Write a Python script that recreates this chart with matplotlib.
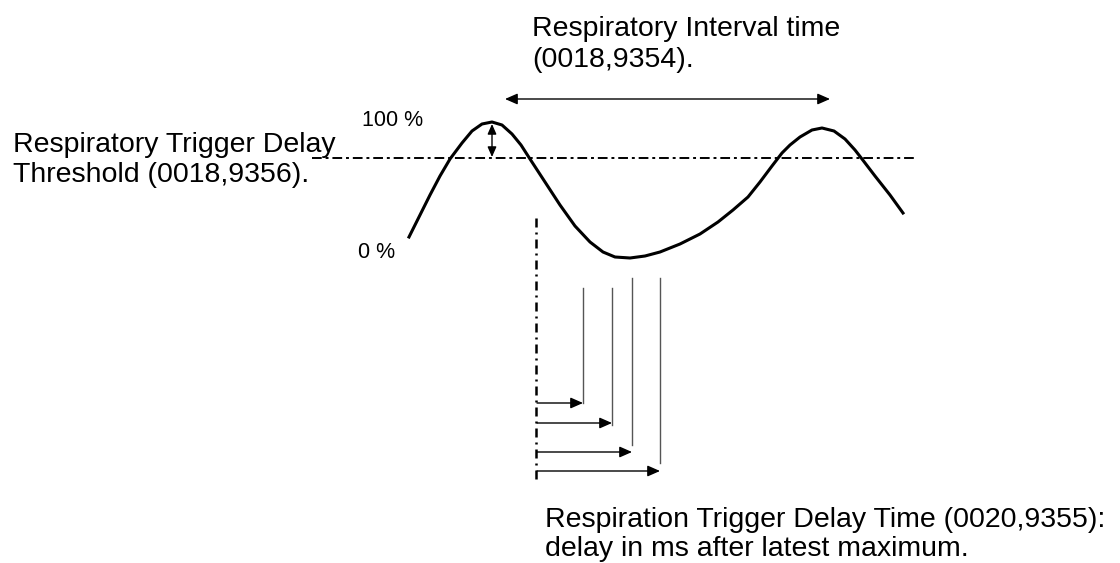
import matplotlib.pyplot as plt

plt.rcParams['font.family'] = ['Liberation Sans', 'DejaVu Sans']

# breathing curve (pixel space, y down)
curve_x = [409, 420, 430, 440, 450, 462, 472, 482, 492, 502, 512, 521, 530, 545,
           560, 575, 590, 603, 615, 630, 645, 660, 680, 700, 718, 733, 748, 760,
           772, 782, 790, 800, 812, 822, 834, 845, 855, 862, 875, 890, 903]
curve_y = [237, 215, 195, 176, 159, 143, 131, 124, 122, 125, 134, 145, 159, 182,
           205, 226, 242, 252, 257, 258, 256, 252, 244, 234, 222, 210, 197, 182,
           166, 153, 145, 137, 130, 128, 131, 139, 150, 159, 176, 195, 213]

threshold_y = 158
delay_x = 536
delay_tips = [583, 612, 632, 660]
delay_top = [288, 288, 278, 278]
delay_bottom = [403, 425, 445, 463]
delay_arrow_y = [403, 423, 452, 471]

interval_lines = ['Respiratory Interval time', '(0018,9354).']
threshold_lines = ['Respiratory Trigger Delay', 'Threshold (0018,9356).']
delay_lines = ['Respiration Trigger Delay Time (0020,9355):',
               'delay in ms after latest maximum.']

fig = plt.figure(figsize=(11.2, 5.63), dpi=100)
ax = fig.add_axes([0, 0, 1, 1])
ax.set_xlim(0, 1120)
ax.set_ylim(563, 0)
ax.axis('off')

ax.plot(curve_x, curve_y, color='black', lw=2.2, solid_joinstyle='round')

# threshold line
ax.plot([312, 914], [threshold_y, threshold_y], color='black', lw=1.4,
        linestyle=(0, (5, 2, 1.5, 2)))

# latest maximum marker
ax.plot([delay_x, delay_x], [218, 480], color='black', lw=1.8,
        linestyle=(0, (3.6, 2, 0.8, 2)))

head = dict(arrowstyle='-|>,head_length=0.5,head_width=0.22', color='black',
            lw=1.0, mutation_scale=15, shrinkA=0, shrinkB=0)
for xt, yt, yb, ya in zip(delay_tips, delay_top, delay_bottom, delay_arrow_y):
    ax.plot([xt, xt], [yt, yb], color='#555555', lw=1.0)
    ax.annotate('', xy=(xt, ya), xytext=(delay_x + 1, ya), arrowprops=head)

both = dict(arrowstyle='<|-|>,head_length=0.5,head_width=0.22', color='black',
            lw=1.0, mutation_scale=15, shrinkA=0, shrinkB=0)
ax.annotate('', xy=(830, 99), xytext=(505, 99), arrowprops=both)
ax.annotate('', xy=(492, 157), xytext=(492, 124),
            arrowprops=dict(both, mutation_scale=12))

big = dict(fontsize=20.5, ha='left', va='baseline')
for s, yb in zip(interval_lines, [36, 67]):
    ax.text(532, yb, s, **big)
for s, yb in zip(threshold_lines, [152, 182]):
    ax.text(13, yb, s, **big)
for s, yb in zip(delay_lines, [527, 556]):
    ax.text(545, yb, s, **big)

ax.text(362, 126, '100 %', fontsize=15.5, ha='left', va='baseline')
ax.text(358, 258, '0 %', fontsize=15.5, ha='left', va='baseline')

fig.savefig('out.png', dpi=100)
